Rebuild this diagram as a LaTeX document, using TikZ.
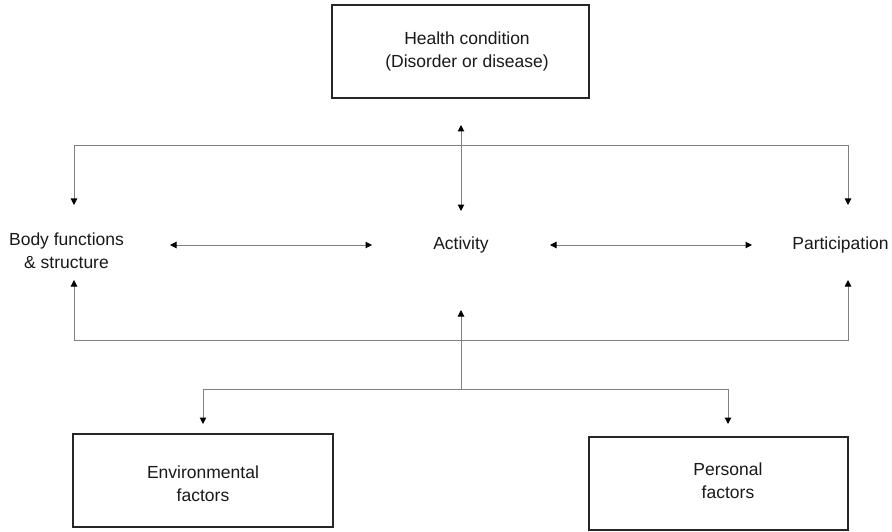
\documentclass[tikz,border=0pt]{standalone}
\usepackage{fontspec}
\setmainfont{Liberation Sans}
\usetikzlibrary{arrows.meta}
\begin{document}
\begin{tikzpicture}[x=1pt,y=-1pt,
  box/.style={draw=black!85,line width=1.3pt,inner sep=0pt},
  lbl/.style={align=center,font=\fontsize{17.5}{23}\selectfont,text=black!90,inner sep=0pt},
  conn/.style={draw=black!50,line width=1pt},
  tip/.style={-{Triangle[length=6.5pt,width=6.5pt,color=black]}},
  dtip/.style={{Triangle[length=6.5pt,width=6.5pt,color=black]}-{Triangle[length=6.5pt,width=6.5pt,color=black]}}]
\useasboundingbox[fill=white] (0,0) rectangle (892,532);
% boxes
\node[box,minimum width=257pt,minimum height=93pt] (health) at (460.5,51.5) {};
\node[lbl] (healthtxt) at (467,51.5) {Health condition\\(Disorder or disease)};
\node[box,minimum width=260pt,minimum height=93pt] (env) at (203,480.5) {};
\node[lbl] (envtxt) at (203,483.5) {Environmental\\factors};
\node[box,minimum width=259pt,minimum height=93pt] (pers) at (718.5,483.5) {};
\node[lbl] (perstxt) at (728,480.5) {Personal\\factors};
% text nodes
\node[lbl] (body) at (66.5,251) {Body functions\\\& structure};
\node[lbl] (act) at (461,245) {Activity};
\node[lbl] (part) at (840.5,245) {Participation};
% coordinates
\coordinate (hA) at (461,125);
\coordinate (hB) at (461,211);
\coordinate (tL) at (74,146);
\coordinate (tR) at (848,146);
\coordinate (tLe) at (74,205);
\coordinate (tRe) at (848,205);
\coordinate (bL) at (74,340);
\coordinate (bR) at (848,340);
\coordinate (bLe) at (74,280);
\coordinate (bRe) at (848,280);
\coordinate (ba1) at (170,245);
\coordinate (ba2) at (372,245);
\coordinate (ap1) at (550,245);
\coordinate (ap2) at (752,245);
\coordinate (cB) at (461,389);
\coordinate (cT) at (461,310);
\coordinate (eL) at (203,389);
\coordinate (eR) at (728,389);
\coordinate (eLe) at (203,424);
\coordinate (eRe) at (728,424);
% connectors
\draw[conn,dtip] (hA) -- (hB);
\draw[conn,dtip] (tLe) -- (tL) -- (tR) -- (tRe);
\draw[conn,dtip] (bLe) -- (bL) -- (bR) -- (bRe);
\draw[conn,dtip] (ba1) -- (ba2);
\draw[conn,dtip] (ap1) -- (ap2);
\draw[conn,tip] (cB) -- (cT);
\draw[conn,dtip] (eLe) -- (eL) -- (eR) -- (eRe);
\end{tikzpicture}
\end{document}
